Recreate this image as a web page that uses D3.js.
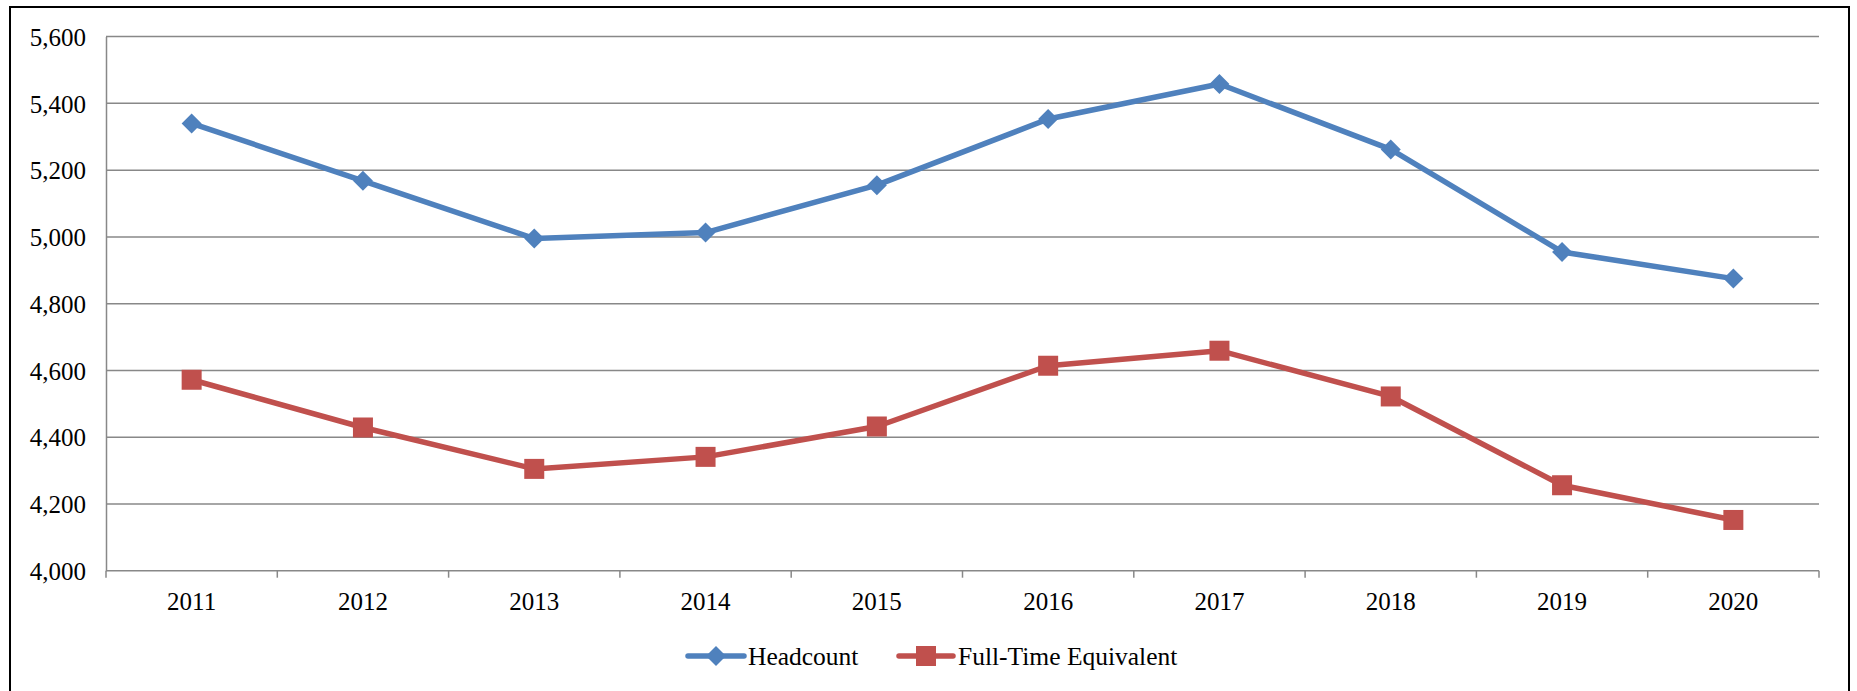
<!DOCTYPE html>
<html>
<head>
<meta charset="utf-8">
<script src="https://cdn.jsdelivr.net/npm/d3@7"></script>
<style>
  html, body { margin: 0; padding: 0; background: #fff; }
  svg { display: block; }
</style>
</head>
<body>
<svg id="chart" width="1857" height="691" style="font-family: 'Liberation Serif', 'DejaVu Serif', serif;"></svg>
<script>
const years = ["2011","2012","2013","2014","2015","2016","2017","2018","2019","2020"];
const headcount = [5340, 5168, 4995, 5013, 5155, 5353, 5458, 5262, 4955, 4875];
const fte = [4572, 4429, 4305, 4341, 4432, 4614, 4659, 4522, 4256, 4152];
const yTicks = [4000, 4200, 4400, 4600, 4800, 5000, 5200, 5400, 5600];
const seriesNames = ["Headcount", "Full-Time Equivalent"];

const FONT = "'Liberation Serif', 'DejaVu Serif', serif";
const FS = 25, LFS = 25.5;
const plot = { left: 106, right: 1819, top: 36.6, bottom: 570.7 };
const blue = "#4F81BD", red = "#C0504D";
const gridColor = "#888888";

const svg = d3.select("#chart");

// outer border
svg.append("rect")
  .attr("x", 10).attr("y", 7)
  .attr("width", 1839).attr("height", 700)
  .attr("fill", "none").attr("stroke", "#000").attr("stroke-width", 2);

const x = d3.scaleBand().domain(years).range([plot.left, plot.right]).padding(0);
const y = d3.scaleLinear().domain([4000, 5600]).range([plot.bottom, plot.top]);

// gridlines
svg.append("g").selectAll("line").data(yTicks.filter(d => d !== 4000)).join("line")
  .attr("x1", plot.left).attr("x2", plot.right)
  .attr("y1", d => y(d)).attr("y2", d => y(d))
  .attr("stroke", gridColor).attr("stroke-width", 1.5);

// y axis
const yAxis = d3.axisLeft(y).tickValues(yTicks).tickSize(0).tickPadding(20)
  .tickFormat(d3.format(","));
const yg = svg.append("g").attr("transform", `translate(${plot.left},0)`).call(yAxis);
yg.attr("font-family", null).attr("font-size", null);
yg.select(".domain").attr("stroke", gridColor).attr("stroke-width", 1.5);
yg.selectAll("text").style("font-family", FONT).style("font-size", FS + "px").attr("fill", "#000").attr("dy", "0.35em");

// x axis with ticks at band boundaries
const xg = svg.append("g").attr("transform", `translate(0,${plot.bottom})`);
xg.append("line").attr("x1", plot.left).attr("x2", plot.right).attr("y1", 0).attr("y2", 0)
  .attr("stroke", gridColor).attr("stroke-width", 1.5);
const boundaries = years.map(d => x(d)).concat([plot.right]);
xg.selectAll("line.tk").data(boundaries).join("line").attr("class", "tk")
  .attr("x1", d => d).attr("x2", d => d).attr("y1", 0).attr("y2", 7)
  .attr("stroke", gridColor).attr("stroke-width", 1.5);
xg.selectAll("text").data(years).join("text")
  .attr("x", d => x(d) + x.bandwidth() / 2).attr("y", 39)
  .attr("text-anchor", "middle")
  .style("font-family", FONT).style("font-size", FS + "px").attr("fill", "#000")
  .text(d => d);

const cx = d => x(d) + x.bandwidth() / 2;
const line = d3.line().x((d, i) => cx(years[i])).y(d => y(d));

// Headcount line
svg.append("path").datum(headcount).attr("d", line)
  .attr("fill", "none").attr("stroke", blue).attr("stroke-width", 5.5).attr("stroke-linejoin", "round");
svg.append("g").selectAll("path").data(headcount).join("path")
  .attr("d", d3.symbol().type(d3.symbolSquare).size(200))
  .attr("transform", (d, i) => `translate(${cx(years[i])},${y(d)}) rotate(45)`)
  .attr("fill", blue);

// FTE line
svg.append("path").datum(fte).attr("d", line)
  .attr("fill", "none").attr("stroke", red).attr("stroke-width", 5.5).attr("stroke-linejoin", "round");
svg.append("g").selectAll("rect").data(fte).join("rect")
  .attr("x", (d, i) => cx(years[i]) - 10).attr("y", d => y(d) - 10)
  .attr("width", 20).attr("height", 20)
  .attr("fill", red);

// legend
const legendY = 656;
const legend = svg.append("g");
const items = [
  { name: seriesNames[0], color: blue, x1: 688, x2: 744, tx: 748, marker: "diamond" },
  { name: seriesNames[1], color: red, x1: 899, x2: 953, tx: 958, marker: "square" }
];
items.forEach(it => {
  legend.append("line").attr("x1", it.x1).attr("x2", it.x2).attr("y1", legendY).attr("y2", legendY)
    .attr("stroke", it.color).attr("stroke-width", 5.5).attr("stroke-linecap", "round");
  const mx = (it.x1 + it.x2) / 2;
  if (it.marker === "diamond") {
    legend.append("path").attr("d", d3.symbol().type(d3.symbolSquare).size(200))
      .attr("transform", `translate(${mx},${legendY}) rotate(45)`).attr("fill", it.color);
  } else {
    legend.append("rect").attr("x", mx - 10).attr("y", legendY - 10).attr("width", 20).attr("height", 20)
      .attr("fill", it.color);
  }
  legend.append("text").attr("x", it.tx).attr("y", legendY).attr("dy", "0.35em")
    .style("font-family", FONT).style("font-size", LFS + "px").attr("fill", "#000")
    .text(it.name);
});
</script>
</body>
</html>
